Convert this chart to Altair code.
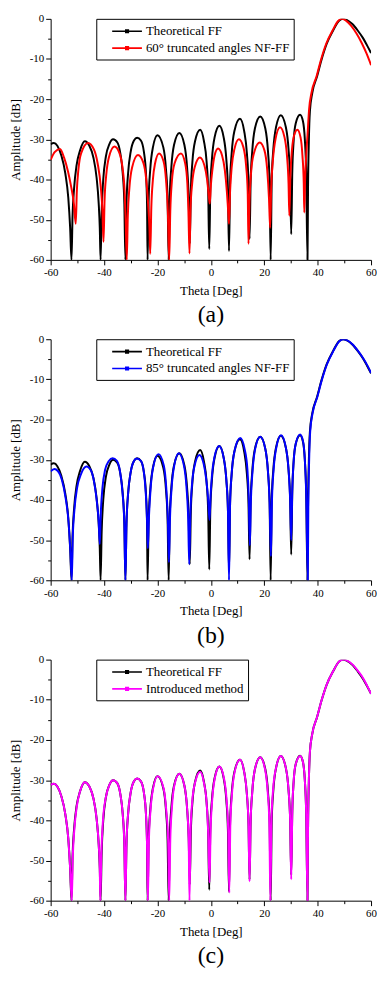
import altair as alt
import pandas as pd

FONT = "Liberation Serif"

# ---------------- data ----------------
# Theoretical far field (same in all three panels)
theta_ff = [-60, -58.8, -57.5, -56.0, -54.5, -53.4, -52.7, -52.2,
            -51.8, -51.2, -50.3, -49.0, -47.2, -45.5, -44.0, -42.8, -42.0, -41.6, -41.3,
            -40.9, -40.3, -39.3, -38.0, -36.6, -35.0, -33.9, -33.0, -32.4, -32.0,
            -31.6, -31.0, -30.0, -28.8, -27.6, -26.2, -25.1, -24.3, -23.9, -23.7,
            -23.3, -22.7, -21.7, -20.0, -17.8, -16.8, -16.2, -15.8,
            -15.4, -14.8, -13.8, -11.8, -9.9, -8.9, -8.3, -7.9,
            -7.5, -6.9, -5.9, -4.0, -2.6, -1.6, -1.0, -0.6,
            -0.2, 0.4, 1.4, 3.2, 4.8, 5.8, 6.4, 6.8,
            7.2, 7.8, 8.8, 10.9, 12.5, 13.5, 14.1, 14.5,
            14.9, 15.5, 16.5, 18.5, 20.4, 21.4, 22.0, 22.4,
            22.8, 23.4, 24.4, 26.2, 28.1, 29.1, 29.7, 30.1,
            30.5, 31.0, 31.8, 33.4, 34.5, 35.2, 35.7, 36.2,
            36.4, 36.7, 37.1, 38.0, 39.8, 41.4, 43.4, 45.8, 48.0, 49.4, 51.0, 53.0, 55.0, 57.0, 58.5, 60.0]
amp_ff = [-31.2, -30.9, -31.6, -34.0, -38.5, -44.5, -52.0, -60,
          -49.0, -42.0, -36.5, -32.8, -30.5, -31.6, -34.5, -39.5, -46.0, -52.0, -60,
          -48.0, -40.0, -34.2, -31.2, -30.0, -30.8, -33.5, -38.5, -46.0, -60,
          -46.0, -38.5, -33.0, -30.3, -29.6, -30.3, -33.0, -38.5, -46.0, -60,
          -45.0, -37.5, -32.0, -29.0, -32.0, -37.5, -45.0, -60,
          -44.4, -37.0, -31.4, -28.4, -31.4, -37.0, -44.4, -56.0,
          -43.0, -35.5, -30.4, -27.6, -30.4, -35.5, -43.0, -57.3,
          -42.5, -35.0, -29.5, -26.6, -29.5, -35.0, -42.5, -57.8,
          -41.0, -33.5, -28.0, -24.9, -28.0, -33.5, -41.0, -54.8,
          -40.5, -33.0, -27.3, -24.3, -27.3, -33.0, -40.5, -60,
          -40.0, -32.5, -27.0, -24.0, -27.0, -32.5, -40.0, -53.6,
          -38.0, -30.5, -26.0, -23.9, -25.5, -30.0, -38.0, -60,
          -42.0, -30.5, -23.0, -18.4, -14.3, -10.3, -6.2, -2.9, -0.5, 0.0, -0.3, -1.3, -2.9, -4.8, -6.6, -8.5]

# (a) 60 degree truncated angles NF-FF
theta_60 = [-60, -58.5, -56.5, -55.0, -53.5, -52.4, -51.3, -50.6,
            -50.2, -49.6, -48.6, -46.0, -43.8, -42.4, -41.2, -40.6, -40.2,
            -39.8, -39.2, -38.2, -36.1, -34.2, -33.1, -32.3, -31.9, -31.5,
            -31.1, -30.5, -29.5, -27.3, -25.3, -24.2, -23.5, -23.0, -22.7,
            -22.3, -21.7, -20.9, -19.4, -17.7, -16.8, -16.1, -15.6,
            -15.2, -14.6, -13.6, -11.2, -9.6, -8.8, -8.4, -8.0,
            -7.6, -7.0, -6.0, -4.1, -2.4, -1.4, -0.7, -0.4,
            0.0, 0.6, 1.4, 2.7, 4.2, 5.2, 6.0, 6.5, 6.8,
            7.2, 7.8, 8.8, 10.5, 12.2, 13.2, 13.8, 14.1,
            14.5, 15.1, 16.1, 18.3, 20.1, 21.1, 21.8, 22.2,
            22.6, 23.2, 24.2, 25.9, 27.6, 28.5, 29.1, 29.4,
            29.8, 30.4, 31.2, 32.4, 33.6, 34.3, 34.8, 35.0,
            35.3, 35.8, 36.2, 36.8, 37.7, 39.6, 41.2, 43.2, 45.6, 47.6, 48.9, 50.5, 52.5, 54.5, 56.5, 58.3, 60.0]
amp_60 = [-35.1, -33.2, -32.4, -34.5, -38.0, -41.5, -46.0, -51.0,
          -43.0, -37.5, -33.5, -30.9, -32.5, -36.0, -42.0, -48.0, -55.5,
          -45.0, -39.0, -34.5, -31.8, -33.5, -37.0, -43.0, -50.0, -60,
          -49.0, -42.0, -37.0, -33.9, -35.8, -40.0, -46.0, -52.0, -58.5,
          -47.0, -40.0, -36.0, -33.5, -35.5, -40.0, -48.0, -60,
          -48.0, -40.5, -36.0, -33.5, -36.0, -41.0, -48.0, -58.4,
          -47.0, -41.0, -36.8, -34.5, -36.5, -40.0, -44.5, -46.0,
          -41.5, -37.5, -34.0, -32.3, -34.0, -37.5, -43.0, -48.0, -51.0,
          -43.0, -37.0, -32.5, -30.0, -32.0, -36.5, -43.0, -56.0,
          -45.0, -38.0, -33.5, -30.8, -32.8, -37.5, -45.0, -52.0,
          -42.0, -35.5, -30.0, -27.0, -29.5, -34.0, -41.0, -49.0,
          -39.0, -32.5, -29.0, -27.6, -29.5, -34.0, -41.0, -48.2,
          -40.0, -33.0, -29.0, -22.5, -18.4, -14.3, -10.3, -6.2, -2.9, -0.6, 0.0, -0.4, -1.7, -3.6, -6.0, -8.6, -11.5]

# (b) 85 degree truncated angles NF-FF
theta_85 = [-60, -58.6, -57.3, -55.8, -54.4, -53.3, -52.6, -52.1,
            -51.7, -51.1, -50.1, -48.6, -46.6, -44.8, -43.6, -42.6, -42.0, -41.6,
            -41.2, -40.6, -39.6, -38.2, -36.8, -35.2, -34.0, -33.1, -32.4, -32.0,
            -31.6, -31.0, -30.0, -28.8, -27.8, -26.2, -25.1, -24.4, -23.9, -23.6,
            -23.2, -22.6, -21.6, -19.6, -17.6, -16.7, -16.1, -15.7,
            -15.3, -14.7, -13.7, -12.0, -10.1, -9.1, -8.5, -8.1,
            -7.7, -7.1, -6.1, -4.3, -2.7, -1.7, -1.0, -0.5,
            -0.1, 0.4, 1.3, 3.1, 4.8, 5.8, 6.4, 6.8,
            7.2, 7.8, 8.8, 11.0, 12.7, 13.7, 14.2, 14.6,
            15.0, 15.6, 16.6, 18.5, 20.4, 21.4, 22.0, 22.5,
            22.9, 23.5, 24.5, 26.3, 28.1, 29.1, 29.7, 30.1,
            30.5, 31.0, 31.8, 33.4, 34.5, 35.2, 35.7, 36.3,
            36.5, 36.8, 37.2, 38.1, 39.9, 41.5, 43.5, 45.9, 48.1, 49.6, 51.1, 53.1, 55.1, 57.1, 58.6, 60.0]
amp_85 = [-32.9, -32.3, -32.8, -35.0, -39.5, -45.5, -53.0, -60,
          -49.0, -42.5, -37.0, -33.5, -31.7, -32.8, -36.0, -41.0, -45.5, -51.0,
          -43.0, -37.0, -32.5, -30.3, -29.6, -30.3, -33.0, -38.0, -46.0, -60,
          -46.0, -38.5, -33.0, -30.3, -29.7, -30.3, -33.0, -38.0, -45.0, -52.0,
          -44.5, -37.5, -31.8, -28.6, -31.5, -37.0, -45.0, -55.5,
          -44.5, -37.0, -31.4, -28.4, -31.4, -37.0, -44.5, -56.0,
          -44.0, -36.5, -31.5, -28.8, -31.0, -35.0, -40.0, -45.0,
          -39.0, -34.0, -29.5, -26.6, -29.5, -35.0, -42.5, -60,
          -41.0, -33.5, -28.0, -24.6, -27.5, -32.5, -39.5, -51.3,
          -40.0, -33.0, -27.3, -24.3, -27.3, -33.0, -40.5, -54.0,
          -40.0, -32.5, -27.0, -23.9, -27.0, -32.5, -40.0, -50.0,
          -37.5, -30.5, -26.0, -23.7, -25.3, -30.0, -38.0, -60,
          -42.0, -30.5, -23.0, -18.4, -14.3, -10.3, -6.2, -2.9, -0.5, 0.0, -0.3, -1.3, -2.9, -4.8, -6.5, -8.4]

# (c) Introduced method
theta_new = [-60, -58.8, -57.5, -56.0, -54.5, -53.4, -52.7, -52.1,
             -51.7, -51.1, -50.2, -49.0, -47.2, -45.5, -44.0, -42.8, -42.0, -41.6, -41.4,
             -41.0, -40.4, -39.3, -38.0, -36.6, -35.0, -33.9, -33.0, -32.4, -32.0,
             -31.6, -31.0, -30.0, -28.8, -27.6, -26.2, -25.1, -24.3, -23.9, -23.6,
             -23.2, -22.6, -21.6, -19.9, -17.7, -16.7, -16.0, -15.6,
             -15.2, -14.6, -13.7, -11.8, -9.9, -8.9, -8.3, -8.0,
             -7.6, -7.0, -5.9, -4.0, -2.6, -1.6, -1.0, -0.5,
             -0.1, 0.5, 1.5, 3.2, 4.9, 5.9, 6.5, 6.9,
             7.3, 7.9, 8.9, 10.9, 12.5, 13.5, 14.1, 14.5,
             14.9, 15.5, 16.5, 18.5, 20.3, 21.3, 21.9, 22.3,
             22.7, 23.3, 24.4, 26.2, 28.1, 29.1, 29.7, 30.1,
             30.5, 31.0, 31.8, 33.5, 34.5, 35.2, 35.7, 36.2,
             36.4, 36.7, 37.1, 38.0, 39.8, 41.4, 43.4, 45.8, 48.0, 49.6, 51.2, 53.2, 55.2, 57.2, 58.6, 60.0]
amp_new = [-31.2, -30.9, -31.6, -34.0, -38.5, -44.5, -52.0, -60,
           -49.0, -42.0, -36.5, -32.8, -30.5, -31.6, -34.5, -39.5, -46.0, -52.0, -60,
           -48.0, -40.0, -34.2, -31.2, -30.0, -30.8, -33.5, -38.5, -46.0, -60,
           -46.0, -38.5, -33.0, -30.3, -29.6, -30.3, -33.0, -38.5, -46.0, -60,
           -45.0, -37.5, -32.0, -29.0, -32.0, -37.5, -45.0, -60,
           -45.0, -37.0, -31.4, -28.4, -31.4, -37.0, -45.0, -60,
           -43.0, -35.5, -30.6, -27.9, -30.6, -35.5, -43.0, -55.5,
           -42.5, -35.0, -29.5, -26.6, -29.5, -35.0, -42.5, -58.0,
           -41.0, -33.5, -28.0, -24.9, -28.0, -33.5, -41.0, -55.2,
           -40.5, -33.0, -27.3, -24.3, -27.3, -33.0, -40.5, -60,
           -40.0, -32.5, -27.0, -24.0, -27.0, -32.5, -40.0, -54.7,
           -38.0, -30.5, -26.0, -24.0, -25.5, -30.0, -38.0, -60,
           -42.0, -30.5, -23.0, -18.4, -14.3, -10.3, -6.2, -2.9, -0.5, 0.0, -0.3, -1.3, -2.9, -4.8, -6.6, -8.5]

REF_LABEL = "Theoretical FF"
panels = [
    (theta_60, amp_60, "60° truncated angles NF-FF", "#ff0000", "(a)"),
    (theta_85, amp_85, "85° truncated angles NF-FF", "#0000ff", "(b)"),
    (theta_new, amp_new, "Introduced method", "#ff00ff", "(c)"),
]

x_axis = alt.Axis(
    values=list(range(-60, 61, 10)),
    labelExpr="datum.value % 20 === 0 ? toString(datum.value) : ''",
    tickSize={"condition": {"test": "datum.value % 20 === 0", "value": 5}, "value": 3},
    title="Theta [Deg]", grid=False, labelFlush=False, labelOverlap=False,
    domainColor="black", tickColor="black", labelColor="black", titleColor="black",
    labelFont=FONT, labelFontSize=11, titleFont=FONT, titleFontSize=13,
    titleFontWeight="normal", labelPadding=2, titlePadding=7,
)
y_axis = alt.Axis(
    values=list(range(-60, 1, 5)),
    labelExpr="datum.value % 10 === 0 ? toString(datum.value) : ''",
    tickSize={"condition": {"test": "datum.value % 10 === 0", "value": 5}, "value": 3},
    title="Amplitude [dB]", grid=False, labelFlush=False, labelOverlap=False,
    domainColor="black", tickColor="black", labelColor="black", titleColor="black",
    labelFont=FONT, labelFontSize=11, titleFont=FONT, titleFontSize=13,
    titleFontWeight="normal", labelPadding=2, titlePadding=7,
)

# legend symbol: a line with a small square marker, extending right of the symbol slot
LEGEND_SYMBOL = "M0.47,0H4.47M2.3,-0.17H2.64V0.17H2.3Z"

charts = []
for th, am, label, color, caption in panels:
    df_ref = pd.DataFrame({"theta": theta_ff, "amp": amp_ff, "series": REF_LABEL})
    df_m = pd.DataFrame({"theta": th, "amp": am, "series": label})
    color_enc = alt.Color(
        "series:N",
        scale=alt.Scale(domain=[REF_LABEL, label], range=["#000000", color]),
        legend=alt.Legend(
            title=None, orient="none", legendX=46, legendY=0,
            strokeColor="black", fillColor="white", padding=4,
            symbolType=LEGEND_SYMBOL, symbolSize=225, symbolStrokeWidth=1.6,
            labelFont=FONT, labelFontSize=13, labelColor="black",
            labelLimit=0, rowPadding=1, labelOffset=29, cornerRadius=0,
        ),
    )
    x = alt.X("theta:Q", scale=alt.Scale(domain=[-60, 60], nice=False), axis=x_axis)
    y = alt.Y("amp:Q", scale=alt.Scale(domain=[-60, 0], nice=False), axis=y_axis)
    ref = alt.Chart(df_ref).mark_line(interpolate="monotone", strokeWidth=2, clip=True).encode(x=x, y=y, color=color_enc)
    meas = alt.Chart(df_m).mark_line(interpolate="monotone", strokeWidth=2, clip=True).encode(x=x, y=y, color=color_enc)
    c = alt.layer(ref, meas).properties(
        width=323, height=243,
        title=alt.TitleParams(caption, orient="bottom", fontSize=24, font=FONT,
                              fontWeight="normal", frame="group", anchor="middle",
                              offset=6, color="black"),
    )
    charts.append(c)

chart = (
    alt.vconcat(*charts, spacing=4)
    .resolve_scale(color="independent")
    .properties(padding={"left": 0, "top": 0, "right": 0, "bottom": 0})
    .configure_view(stroke="transparent")
)
chart.save("out.html", embed_options={"renderer": "svg", "actions": False})
